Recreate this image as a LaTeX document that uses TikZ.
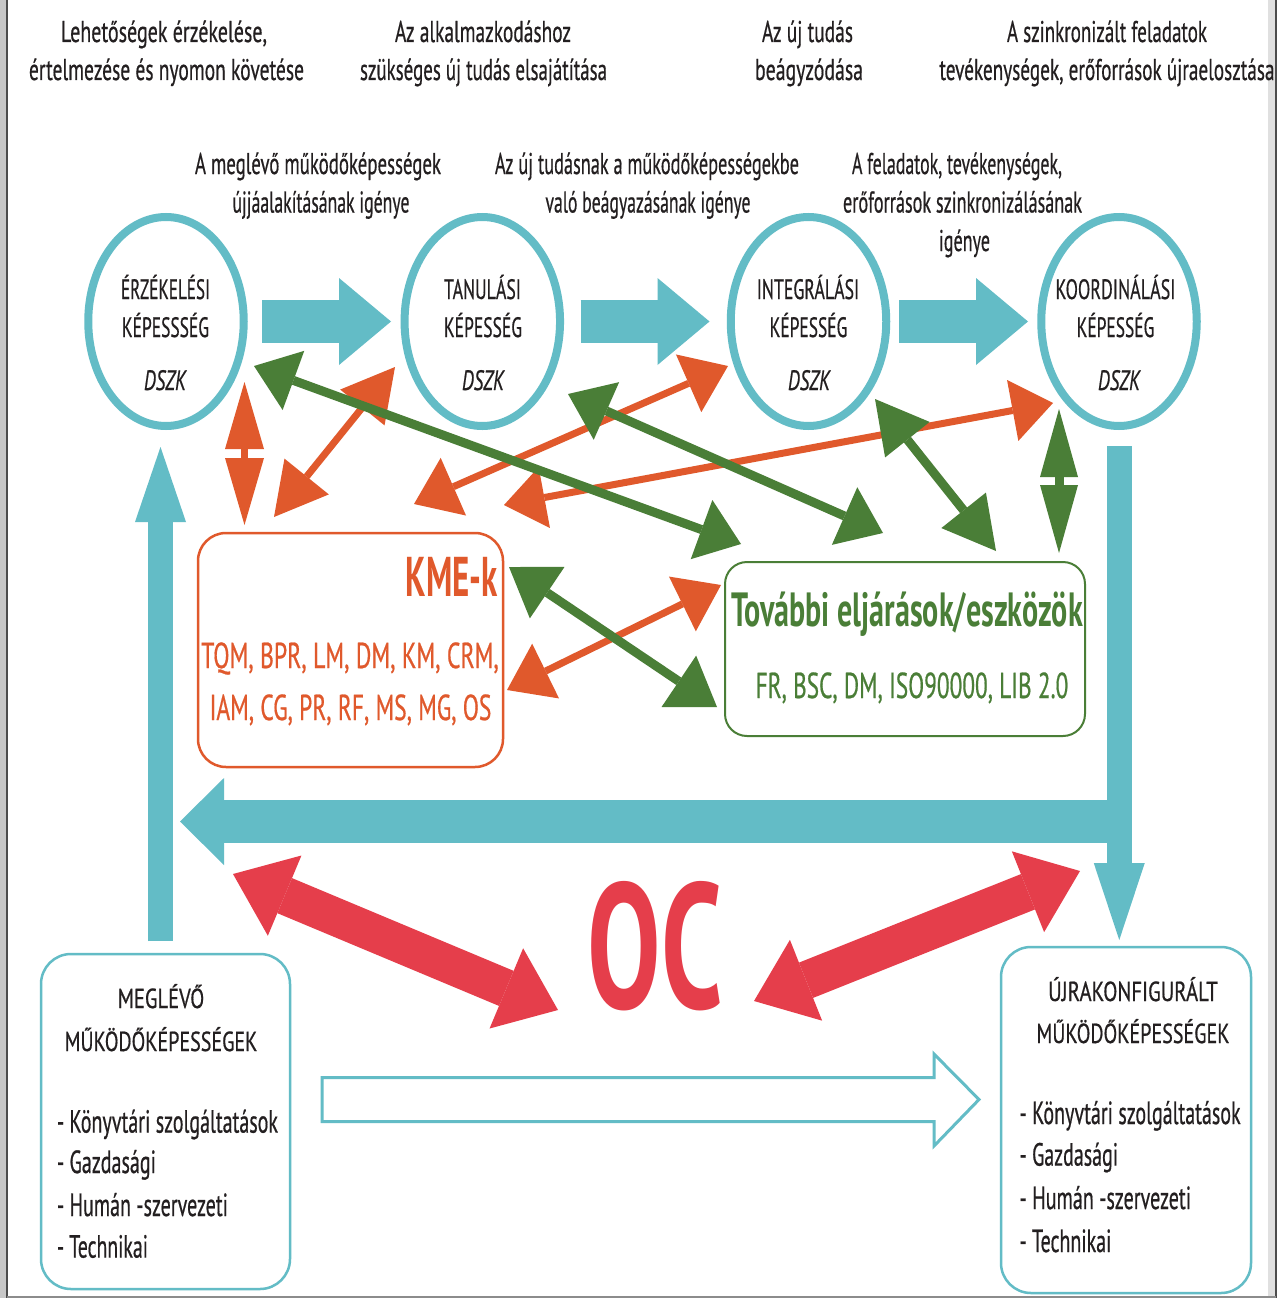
\documentclass[tikz,border=0pt]{standalone}
\usepackage{fontspec}
\setmainfont{PT Sans}
\newfontfamily\rgf{PT Sans}[FakeBold=0.7]
\usepackage{graphicx}
\usetikzlibrary{arrows.meta,shapes.geometric}
\definecolor{tealc}{HTML}{63BCC6}
\definecolor{orangec}{HTML}{E0592C}
\definecolor{greenc}{HTML}{4A7E37}
\definecolor{redc}{HTML}{E53E4B}
\definecolor{txtc}{HTML}{231F20}
\newcommand\fw[2]{\resizebox{#1pt}{\height}{#2}}
\newcommand\fA{\rgf\fontsize{30}{36}\selectfont}
\newcommand\fC{\rgf\fontsize{28}{34}\selectfont}
\newcommand\fH{\rgf\fontsize{27.5}{34}\selectfont}
\newcommand\fL{\rgf\fontsize{32}{38}\selectfont}
\newcommand\fK{\rgf\fontsize{36}{40}\selectfont}
\newcommand\fKb{\bfseries\fontsize{56}{60}\selectfont}
\newcommand\fTb{\bfseries\fontsize{48}{52}\selectfont}
\tikzset{
  lbl/.style={anchor=base, inner sep=0pt, outer sep=0pt, text=txtc},
  lbll/.style={anchor=base west, inner sep=0pt, outer sep=0pt, text=txtc},
  ell/.style={ellipse, draw=tealc, line width=8pt, minimum width=155.5pt, minimum height=209pt, inner sep=0pt},
  tblock/.style={draw=tealc, line width=#1, -{Triangle[length=52pt 0, width=87pt 0, line width=0pt]}},
  obox/.style={draw=orangec, line width=2.5pt, rounded corners=28pt},
  gbox/.style={draw=greenc, line width=2pt, rounded corners=22pt},
  cbox/.style={draw=tealc, line width=2.5pt, rounded corners=30pt},
  oarr/.style 2 args={draw=orangec, line width=7pt, {Triangle[length=#1 0, width=#2 0, line width=0pt]}-{Triangle[length=#1 0, width=#2 0, line width=0pt]}},
  garr/.style 2 args={draw=greenc, line width=9pt, {Triangle[length=#1 0, width=#2 0, line width=0pt]}-{Triangle[length=#1 0, width=#2 0, line width=0pt]}},
  rarr/.style={draw=redc, line width=38pt, {Triangle[length=56pt 0, width=87pt 0, line width=0pt]}-{Triangle[length=56pt 0, width=87pt 0, line width=0pt]}},
}
\begin{document}
\begin{tikzpicture}[x=1pt, y=-1pt]
\fill[white] (0,0) rectangle (1280,1298);
\useasboundingbox (0,0) rectangle (1280,1298);
% frame
\fill[black!22] (0,0) rectangle (6,1298);
\draw[black!70, line width=1.6pt] (7,0) -- (7,1298);
\fill[black!12] (1268,0) rectangle (1275,1298);
\draw[black!70, line width=1.6pt] (1276,0) -- (1276,1298);
\draw[black!45, line width=1.5pt] (7,1297) -- (1276,1297);

% top row texts
\node[lbl, font=\fA] (t1a) at (164,42) {\fw{206}{Lehetőségek érzékelése,}};
\node[lbl, font=\fA] (t1b) at (166.5,80) {\fw{275}{értelmezése és nyomon követése}};
\node[lbl, font=\fA] (t2a) at (483,42) {\fw{176}{Az alkalmazkodáshoz}};
\node[lbl, font=\fA] (t2b) at (483.5,80) {\fw{247}{szükséges új tudás elsajátítása}};
\node[lbl, font=\fA] (t3a) at (807.5,42) {\fw{91}{Az új tudás}};
\node[lbl, font=\fA] (t3b) at (809,80) {\fw{108}{beágyzódása}};
\node[lbl, font=\fA] (t4a) at (1107,42) {\fw{200}{A szinkronizált feladatok}};
\node[lbl, font=\fA] (t4b) at (1107,80) {\fw{335}{tevékenységek, erőforrások újraelosztása}};

% second row texts
\node[lbl, font=\fA] (n1a) at (318,174) {\fw{246}{A meglévő működőképességek}};
\node[lbl, font=\fA] (n1b) at (321,212.5) {\fw{177}{újjáalakításának igénye}};
\node[lbl, font=\fA] (n2a) at (647,174) {\fw{304}{Az új tudásnak a működőképességekbe}};
\node[lbl, font=\fA] (n2b) at (648,212.5) {\fw{205}{való beágyazásának igénye}};
\node[lbl, font=\fA] (n3a) at (957,174) {\fw{210}{A feladatok, tevékenységek,}};
\node[lbl, font=\fA] (n3b) at (962.5,212.5) {\fw{239}{erőforrások szinkronizálásának}};
\node[lbl, font=\fA] (n3c) at (964.5,251) {\fw{51}{igénye}};

% capability ellipses
\node[ell] (c1) at (166,321.5) {};
\node[ell] (c2) at (482.3,321.5) {};
\node[ell] (c3) at (808.5,321.5) {};
\node[ell] (c4) at (1119,321.5) {};
\node[lbl, font=\fC] (c1a) at (165.5,299) {\fw{89}{ÉRZÉKELÉSI}};
\node[lbl, font=\fC] (c1b) at (165.5,337) {\fw{87}{KÉPESSSÉG}};
\node[lbl, font=\fC] (c1c) at (165,390) {\fw{42}{\itshape DSZK}};
\node[lbl, font=\fC] (c2a) at (482.5,299) {\fw{77}{TANULÁSI}};
\node[lbl, font=\fC] (c2b) at (483,337) {\fw{78}{KÉPESSÉG}};
\node[lbl, font=\fC] (c2c) at (483,390) {\fw{42}{\itshape DSZK}};
\node[lbl, font=\fC] (c3a) at (808,299) {\fw{102.5}{INTEGRÁLÁSI}};
\node[lbl, font=\fC] (c3b) at (808.5,337) {\fw{77.5}{KÉPESSÉG}};
\node[lbl, font=\fC] (c3c) at (809,390) {\fw{42}{\itshape DSZK}};
\node[lbl, font=\fC] (c4a) at (1115.5,299) {\fw{120}{KOORDINÁLÁSI}};
\node[lbl, font=\fC] (c4b) at (1115.5,337) {\fw{77.5}{KÉPESSÉG}};
\node[lbl, font=\fC] (c4c) at (1119,390) {\fw{42}{\itshape DSZK}};

% teal block arrows between ellipses
\coordinate (a1s) at (262,321.5); \coordinate (a1e) at (391,321.5);
\coordinate (a2s) at (580.5,321.5); \coordinate (a2e) at (709.5,321.5);
\coordinate (a3s) at (899,321.5); \coordinate (a3e) at (1028,321.5);
\draw[tblock=43pt] (a1s) -- (a1e);
\draw[tblock=43pt] (a2s) -- (a2e);
\draw[tblock=43pt] (a3s) -- (a3e);

% boxes
\node[obox, minimum width=305pt, minimum height=234pt, inner sep=0pt] (kme) at (350.5,650) {};
\node[gbox, minimum width=360pt, minimum height=174pt, inner sep=0pt] (tov) at (905,649) {};
\node[cbox, minimum width=249pt, minimum height=335pt, inner sep=0pt] (meg) at (165.5,1121.5) {};
\node[cbox, minimum width=250pt, minimum height=346pt, inner sep=0pt] (ujr) at (1126,1120) {};

\node[anchor=base east, inner sep=0pt, text=orangec, font=\fKb] (kmet) at (498,596) {\fw{92}{KME-k}};
\node[anchor=base, inner sep=0pt, text=orangec, font=\fK] (kme1) at (350,668) {\fw{297.6}{TQM, BPR, LM, DM, KM, CRM,}};
\node[anchor=base, inner sep=0pt, text=orangec, font=\fK] (kme2) at (350.5,720) {\fw{281.8}{IAM, CG, PR, RF, MS, MG, OS}};
\node[anchor=base, inner sep=0pt, text=greenc, font=\fTb] (tovt) at (907,626) {\fw{351.5}{További eljárások/eszközök}};
\node[anchor=base, inner sep=0pt, text=greenc, font=\fK] (tov1) at (912,698) {\fw{312.6}{FR, BSC, DM, ISO90000, LIB 2.0}};

\node[lbl, font=\fH] (m1) at (161,1008) {\fw{86.5}{MEGLÉVŐ}};
\node[lbl, font=\fH] (m2) at (161,1051) {\fw{192.6}{MŰKÖDŐKÉPESSÉGEK}};
\node[lbll, font=\fL] (m3) at (57,1132.6) {\fw{221}{- Könyvtári szolgáltatások}};
\node[lbll, font=\fL] (m4) at (57,1173) {\fw{99}{- Gazdasági}};
\node[lbll, font=\fL] (m5) at (57,1216) {\fw{171}{- Humán -szervezeti}};
\node[lbll, font=\fL] (m6) at (57,1257.6) {\fw{91}{- Technikai}};

\node[lbl, font=\fH] (u1) at (1133,1001) {\fw{169.6}{ÚJRAKONFIGURÁLT}};
\node[lbl, font=\fH] (u2) at (1133,1043) {\fw{193}{MŰKÖDŐKÉPESSÉGEK}};
\node[lbll, font=\fL] (u3) at (1019.6,1124) {\fw{221}{- Könyvtári szolgáltatások}};
\node[lbll, font=\fL] (u4) at (1019.6,1165.6) {\fw{98.5}{- Gazdasági}};
\node[lbll, font=\fL] (u5) at (1019.6,1209) {\fw{171.5}{- Humán -szervezeti}};
\node[lbll, font=\fL] (u6) at (1019.6,1252) {\fw{91.8}{- Technikai}};

% teal loop arrows
\coordinate (vl0) at (160.5,941); \coordinate (vl1) at (160.5,447);
\draw[draw=tealc, line width=25.5pt, -{Triangle[length=75pt 0, width=51pt 0, line width=0pt]}] (vl0) -- (vl1);
\coordinate (vr0) at (1119.25,446); \coordinate (vr1) at (1119.25,940);
\draw[draw=tealc, line width=25.5pt, -{Triangle[length=77pt 0, width=51pt 0, line width=0pt]}] (vr0) -- (vr1);
\coordinate (h0) at (1119.25,821.5); \coordinate (h1) at (180,821.5);
\draw[draw=tealc, line width=43pt, -{Triangle[length=44pt 0, width=87pt 0, line width=0pt]}] (h0) -- (h1);

% hollow arrow
\draw[tealc, line width=3pt] (322,1077.5) -- (934,1077.5) -- (934,1054) -- (979,1099.5) -- (934,1146) -- (934,1121.6) -- (322,1121.6) -- cycle;

% OC
\node[anchor=base, inner sep=0pt, text=redc] (oc) at (655.5,1008) {\resizebox{135pt}{127pt}{\bfseries OC}};
\coordinate (r1a) at (233,874); \coordinate (r1b) at (558,1010);
\coordinate (r2a) at (1080,871); \coordinate (r2b) at (754,1001);
\draw[rarr] (r1a) -- (r1b);
\draw[rarr] (r2a) -- (r2b);

% orange arrows
\coordinate (o1a) at (244.5,382); \coordinate (o1b) at (244.5,525);
\coordinate (o2a) at (395,367); \coordinate (o2b) at (274,517);
\coordinate (o3a) at (728,366); \coordinate (o3b) at (414,504);
\coordinate (o4a) at (1053,403); \coordinate (o4b) at (504,505);
\coordinate (o5a) at (507,690); \coordinate (o5b) at (721,585);
\draw[oarr={67pt}{39pt}] (o1a) -- (o1b);
\draw[oarr={52pt}{57pt}] (o2a) -- (o2b);
\draw[oarr={43pt}{63pt}] (o3a) -- (o3b);
\draw[oarr={41pt}{62pt}] (o4a) -- (o4b);
\draw[oarr={43pt}{61pt}] (o5a) -- (o5b);

% green arrows
\coordinate (g1a) at (254,366); \coordinate (g1b) at (741,544);
\coordinate (g2a) at (568,394); \coordinate (g2b) at (883,533);
\coordinate (g3a) at (875,399); \coordinate (g3b) at (996,551);
\coordinate (g4a) at (1059,409); \coordinate (g4b) at (1059,553);
\coordinate (g5a) at (509,567); \coordinate (g5b) at (717,707);
\draw[garr={42pt}{63pt}] (g1a) -- (g1b);
\draw[garr={42pt}{63pt}] (g2a) -- (g2b);
\draw[garr={52pt}{57pt}] (g3a) -- (g3b);
\draw[garr={68pt}{38pt}] (g4a) -- (g4b);
\draw[garr={46pt}{62pt}] (g5a) -- (g5b);
\end{tikzpicture}
\end{document}
